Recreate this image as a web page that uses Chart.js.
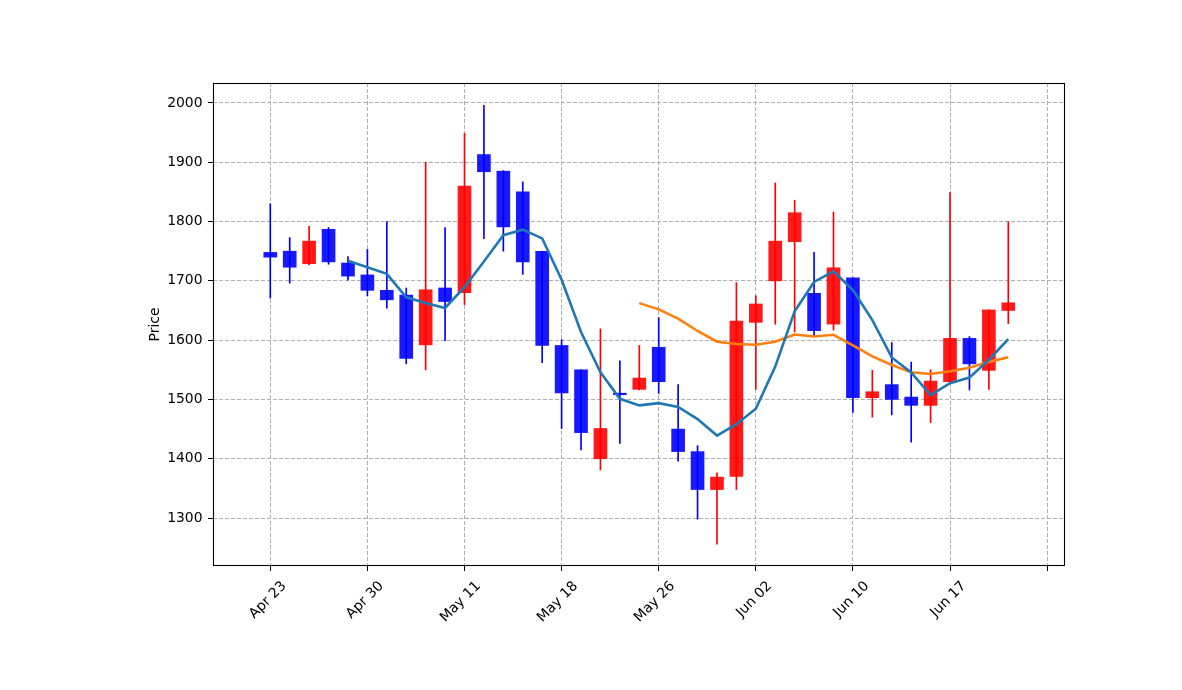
<!DOCTYPE html>
<html>
<head>
<meta charset="utf-8">
<script src="https://cdn.jsdelivr.net/npm/chart.js@4.4.1/dist/chart.umd.min.js"></script>
<style>
    body { margin: 0; background: #fff; }
</style>
</head>
<body>
<canvas id="PriceChart" width="1182" height="690"></canvas>
<script>
// daily candles, one per trading day
const opens = [1748, 1750, 1729, 1787, 1730, 1710, 1684, 1676, 1592, 1688,
    1680, 1913, 1885, 1850, 1750, 1591, 1550, 1400, 1510, 1517,
    1588, 1450, 1412, 1348, 1370, 1630, 1700, 1766, 1679, 1627,
    1705, 1503, 1525, 1504, 1490, 1530, 1603, 1549, 1650];
const highs = [1830, 1773, 1792, 1790, 1741, 1753, 1800, 1688, 1900, 1790,
    1949, 1996, 1886, 1867, 1750, 1601, 1550, 1619, 1565, 1591,
    1638, 1525, 1422, 1376, 1697, 1675, 1865, 1836, 1748, 1816,
    1705, 1549, 1596, 1563, 1550, 1849, 1606, 1651, 1800];
const lows = [1671, 1696, 1727, 1728, 1701, 1675, 1654, 1560, 1550, 1599,
    1660, 1771, 1750, 1711, 1562, 1451, 1415, 1381, 1426, 1516,
    1510, 1396, 1298, 1256, 1348, 1517, 1627, 1614, 1606, 1617,
    1478, 1470, 1474, 1428, 1461, 1528, 1516, 1517, 1628];
const closes = [1740, 1723, 1767, 1732, 1708, 1684, 1668, 1569, 1685, 1665,
    1860, 1884, 1791, 1732, 1591, 1511, 1444, 1451, 1508, 1536,
    1530, 1412, 1348, 1369, 1632, 1661, 1767, 1815, 1616, 1722,
    1503, 1513, 1500, 1490, 1531, 1603, 1560, 1651, 1663];

// moving averages as drawn (ma5 starts at candle 4, ma20 at candle 19)
const ma5 = [1734, 1722.8, 1711.8, 1672.2, 1662.8, 1654.2, 1689.4, 1732.6, 1777, 1786.4,
    1771.6, 1701.8, 1613.8, 1545.8, 1501, 1490, 1493.8, 1487.4, 1466.8, 1439,
    1458.2, 1484.4, 1555.4, 1648.8, 1698.2, 1716.2, 1684.6, 1633.8, 1570.8, 1545.6,
    1507.4, 1527.4, 1536.8, 1567, 1601.6];
const ma20 = [1662.45, 1651.95, 1636.4, 1615.45, 1597.3, 1593.5, 1592.35, 1597.3, 1609.6, 1606.15,
    1609, 1591.15, 1572.6, 1558.05, 1545.95, 1542.95, 1547.55, 1553.35, 1563.35, 1571.1];

// one label every 5 candles
const tickLabels = ['Apr 23', 'Apr 30', 'May 11', 'May 18', 'May 26', 'Jun 02', 'Jun 10', 'Jun 17', ''];
const priceTicks = [1300, 1400, 1500, 1600, 1700, 1800, 1900, 2000];

const upColor = 'rgba(255,0,0,0.9)';
const downColor = 'rgba(0,0,255,0.9)';
const candleColors = closes.map((c, i) => c >= opens[i] ? upColor : downColor);
const wickColors = closes.map((c, i) => c >= opens[i] ? '#ff0000' : '#0000ff');

Chart.defaults.font.family = 'DejaVu Sans';
Chart.defaults.font.size = 13.9;
Chart.defaults.color = '#000';

const frame = {
    id: 'frame',
    afterDraw(chart) {
        const a = chart.chartArea;
        const ctx = chart.ctx;
        ctx.save();
        ctx.strokeStyle = '#000';
        ctx.lineWidth = 1.1;
        ctx.strokeRect(Math.round(a.left) + 0.5, Math.round(a.top) + 0.5,
            Math.round(a.right - a.left) - 1, Math.round(a.bottom - a.top) - 1);
        ctx.restore();
    }
};

const gridStyle = {
    color: '#b0b0b0',
    lineWidth: 1,
    tickColor: '#000',
    tickLength: 5,
    tickWidth: 1,
    tickBorderDash: [],
    offset: false
};

new Chart(document.getElementById('PriceChart'), {
    type: 'bar',
    data: {
        datasets: [
            {
                type: 'line',
                label: 'MA5',
                data: ma5.map((v, i) => ({x: i + 4, y: v})),
                borderColor: '#1f77b4',
                borderWidth: 2.6,
                pointRadius: 0,
                tension: 0,
                order: 0
            },
            {
                type: 'line',
                label: 'MA20',
                data: ma20.map((v, i) => ({x: i + 19, y: v})),
                borderColor: '#ff7f0e',
                borderWidth: 2.6,
                pointRadius: 0,
                tension: 0,
                order: 0
            },
            {
                label: 'body',
                data: opens.map((o, i) => ({x: i, y: [o, closes[i]]})),
                backgroundColor: candleColors,
                borderWidth: 0,
                barThickness: 13,
                minBarLength: 1.5,
                grouped: false,
                order: 1
            },
            {
                label: 'wick',
                data: lows.map((l, i) => ({x: i, y: [l, highs[i]]})),
                backgroundColor: wickColors,
                borderWidth: 0,
                barThickness: 1,
                grouped: false,
                order: 2
            }
        ]
    },
    options: {
        responsive: false,
        animation: false,
        devicePixelRatio: 1,
        layout: {
            padding: {left: 143, top: 83, right: 117, bottom: 0}
        },
        plugins: {
            legend: {display: false},
            tooltip: {enabled: false}
        },
        scales: {
            x: {
                type: 'linear',
                min: -2.95,
                max: 40.92,
                offset: false,
                afterFit: (scale) => { scale.height = 124; },
                afterBuildTicks: (scale) => {
                    scale.ticks = tickLabels.map((t, i) => ({value: i * 5}));
                },
                ticks: {
                    minRotation: 45,
                    maxRotation: 45,
                    padding: 7,
                    labelOffset: 14,
                    autoSkip: false,
                    callback: (value, index) => tickLabels[index]
                },
                grid: gridStyle,
                border: {display: false, dash: [4, 2]}
            },
            y: {
                min: 1219.04,
                max: 2033.73,
                afterFit: (scale) => { scale.width = 70; },
                afterBuildTicks: (scale) => {
                    scale.ticks = priceTicks.map(v => ({value: v}));
                },
                ticks: {
                    padding: 5.5,
                    callback: (value) => String(value)
                },
                title: {
                    display: true,
                    text: 'Price',
                    padding: {top: 4, bottom: 4}
                },
                grid: gridStyle,
                border: {display: false, dash: [4, 2]}
            }
        }
    },
    plugins: [frame]
});
</script>
</body>
</html>
